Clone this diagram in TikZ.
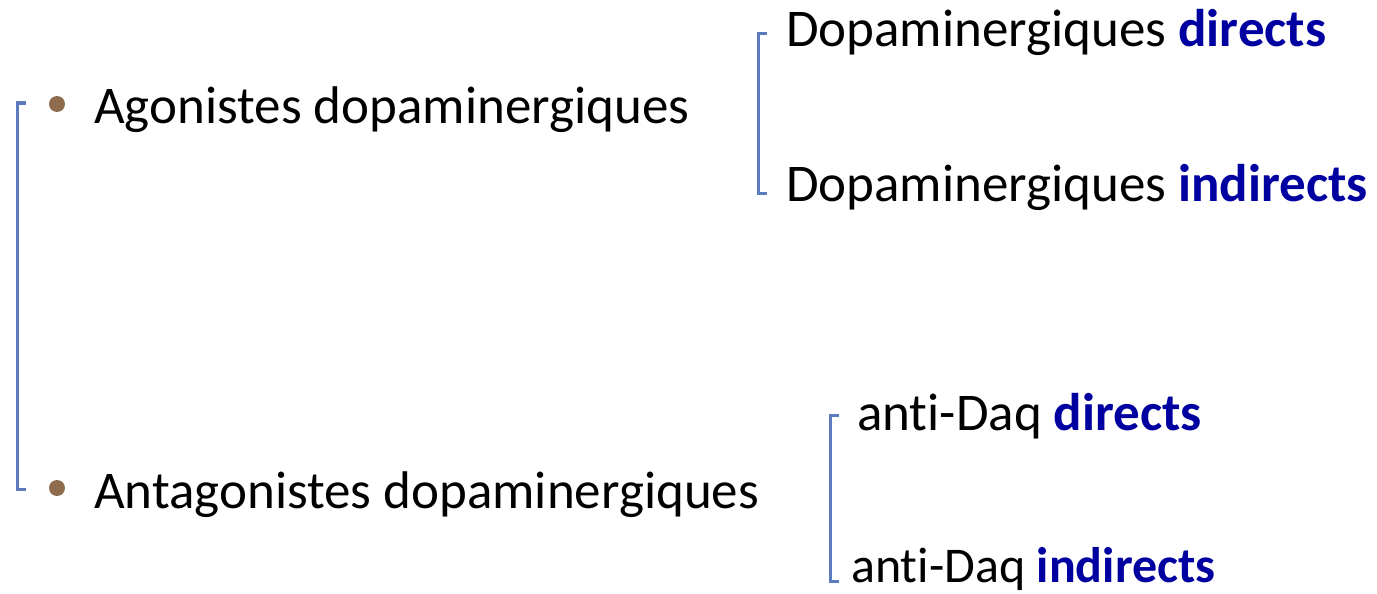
\documentclass[tikz,border=0pt]{standalone}
\usepackage{fontspec}
\setmainfont{Carlito}[Ligatures=NoCommon]
\usepackage{xcolor}
\usetikzlibrary{positioning}
\definecolor{brackblue}{RGB}{92,122,192}
\definecolor{dotbrown}{RGB}{140,108,76}
\definecolor{keyblue}{RGB}{0,0,160}
\newcommand{\kw}[1]{\textbf{\textcolor{keyblue}{#1}}}

\begin{document}
\begin{tikzpicture}[x=1pt,y=-1pt,
  item/.style={anchor=base west,inner sep=0pt,font=\fontsize{53}{60}\selectfont},
  brack/.style={brackblue,line width=3pt},
  dot/.style={circle,fill=dotbrown,inner sep=0pt,minimum size=16pt}]
  \useasboundingbox (0,0) rectangle (1377,594);
  % main items
  \node[item]	(agon) at (94,124) 	{Agonistes dopaminergiques};
  \node[item]	(antag) at (94,508)	{Antagonistes dopaminergiques};
  \node[dot]	(d1) at (57,104) {};
  \node[dot]	(d2) at (57,488) {};
  % sub items
  \node[item]	(dir) at (786,47)	{Dopaminergiques \kw{directs}};
  \node[item]	(ind) at (786,201)	{Dopaminergiques \kw{indirects}};
  \node[item]	(adir) at (857,430)	{anti-Daq \kw{directs}};
  \node[item,font=\fontsize{50}{60}\selectfont]
  		(aind) at (851,582)	{anti-Daq \kw{indirects}};

  \coordinate (l1) at (17,103);
  \coordinate (l2) at (17,489);
  \coordinate (m1) at (758,34);
  \coordinate (m2) at (758,193);
  \coordinate (n1) at (830,415);
  \coordinate (n2) at (830,581);
  \draw[brack] ([xshift=9]l1) -- (l1) -- (l2) -- ([xshift=9]l2);
  \draw[brack] ([xshift=9]m1) -- (m1) -- (m2) -- ([xshift=9]m2);
  \draw[brack] ([xshift=9]n1) -- (n1) -- (n2) -- ([xshift=9]n2);
\end{tikzpicture}
\end{document}
